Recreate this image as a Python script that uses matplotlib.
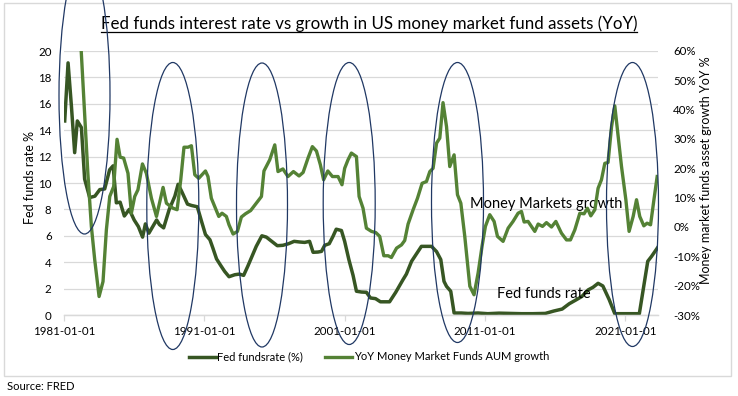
import matplotlib
matplotlib.use("Agg")
import matplotlib.pyplot as plt
from matplotlib.patches import Ellipse, Rectangle
from matplotlib.lines import Line2D

plt.rcParams["font.family"] = ["Lato", "DejaVu Sans"]

# --- data (decimal years) ---
fed_years = [1981.05, 1981.29, 1981.53, 1981.76, 1981.95, 1982.24, 1982.47, 1982.83, 1983.2, 1983.55,
             1983.9, 1984.25, 1984.5, 1984.73, 1985.0, 1985.3, 1985.65, 1986.0, 1986.3, 1986.6,
             1986.8, 1987.05, 1987.6, 1987.8, 1988.1, 1988.5, 1988.9, 1989.13, 1989.37, 1989.8,
             1990.08, 1990.5, 1990.8, 1991.08, 1991.4, 1991.6, 1991.87, 1992.2, 1992.45, 1992.76,
             1993.17, 1993.5, 1993.8, 1994.1, 1994.4, 1994.7, 1995.1, 1995.42, 1995.78, 1996.2,
             1996.6, 1997.0, 1997.4, 1997.8, 1998.15, 1998.5, 1998.75, 1999.1, 1999.35, 1999.58,
             1999.9, 2000.17, 2000.4, 2000.77, 2001.0, 2001.3, 2001.6, 2001.84, 2002.2, 2002.55,
             2002.84, 2003.2, 2003.55, 2004.2, 2004.64, 2005.16, 2005.4, 2005.77, 2006.47, 2007.19,
             2007.55, 2007.85, 2008.08, 2008.26, 2008.56, 2008.8, 2009.3, 2009.8, 2010.5, 2011.2,
             2012.0, 2012.8, 2013.6, 2014.4, 2015.3, 2015.9, 2016.5, 2017.0, 2017.5, 2017.9,
             2018.35, 2018.7, 2019.06, 2019.4, 2019.85, 2020.25, 2021.0, 2022.0, 2022.6, 2022.87,
             2023.33]
fed_rate = [14.7, 19.1, 15.8, 12.3, 14.7, 14.2, 10.3, 8.9, 9.0, 9.5,
            9.55, 11.0, 11.3, 8.5, 8.55, 7.5, 8.0, 7.2, 6.7, 5.9,
            6.9, 6.2, 7.2, 6.85, 6.6, 8.0, 9.0, 9.9, 9.4, 8.4,
            8.3, 8.2, 7.1, 6.1, 5.7, 5.1, 4.25, 3.7, 3.3, 2.9,
            3.05, 3.1, 3.0, 3.7, 4.45, 5.2, 6.0, 5.9, 5.6, 5.25,
            5.28, 5.4, 5.58, 5.53, 5.5, 5.58, 4.75, 4.77, 4.82, 5.28,
            5.4, 5.96, 6.5, 6.4, 5.58, 4.2, 3.0, 1.8, 1.74, 1.72,
            1.29, 1.24, 1.0, 1.0, 1.72, 2.68, 3.1, 4.07, 5.2, 5.2,
            4.8, 4.2, 2.55, 2.17, 1.8, 0.15, 0.15, 0.12, 0.15, 0.1,
            0.14, 0.12, 0.1, 0.1, 0.12, 0.3, 0.45, 0.85, 1.15, 1.4,
            1.9, 2.1, 2.4, 2.2, 1.17, 0.1, 0.1, 0.1, 4.07, 4.44,
            5.15]

mmf_years = [1982.0, 1982.47, 1982.7, 1982.95, 1983.19, 1983.5, 1983.78, 1984.02, 1984.26, 1984.54,
             1984.78, 1985.0, 1985.25, 1985.56, 1985.8, 1986.04, 1986.27, 1986.59, 1986.87, 1987.23,
             1987.59, 1988.06, 1988.3, 1988.77, 1989.06, 1989.32, 1989.55, 1989.84, 1990.08, 1990.32,
             1990.6, 1991.08, 1991.26, 1991.5, 1991.74, 1992.03, 1992.26, 1992.57, 1992.76, 1993.05,
             1993.36, 1993.64, 1993.93, 1994.3, 1994.7, 1995.07, 1995.25, 1995.66, 1996.02, 1996.25,
             1996.6, 1996.96, 1997.35, 1997.75, 1998.04, 1998.39, 1998.7, 1998.99, 1999.27, 1999.5,
             1999.8, 2000.13, 2000.53, 2000.81, 2001.0, 2001.24, 2001.48, 2001.84, 2002.03, 2002.31,
             2002.55, 2002.91, 2003.22, 2003.5, 2003.79, 2004.1, 2004.33, 2004.7, 2005.05, 2005.28,
             2005.52, 2005.88, 2006.19, 2006.52, 2006.83, 2007.07, 2007.3, 2007.55, 2007.78, 2008.01,
             2008.26, 2008.49, 2008.8, 2009.04, 2009.28, 2009.56, 2009.92, 2010.22, 2010.51, 2010.79,
             2011.03, 2011.34, 2011.65, 2011.89, 2012.29, 2012.65, 2013.0, 2013.36, 2013.6, 2013.79,
             2014.07, 2014.55, 2014.79, 2015.1, 2015.38, 2015.74, 2016.05, 2016.45, 2016.81, 2017.09,
             2017.4, 2017.76, 2018.06, 2018.3, 2018.54, 2018.83, 2019.06, 2019.3, 2019.54, 2019.77,
             2020.02, 2020.25, 2020.49, 2020.73, 2021.04, 2021.27, 2021.56, 2021.8, 2022.03, 2022.32,
             2022.55, 2022.8, 2023.04, 2023.27]
mmf_growth = [80.0, 38.8, 18.3, 0.2, -11.2, -23.7, -18.6, -0.95, 10.4, 13.8,
              29.9, 23.8, 23.5, 18.3, 4.7, 10.4, 12.7, 21.5, 18.3, 9.8,
              3.6, 13.5, 8.1, 6.4, 5.9, 16.1, 27.2, 27.2, 27.7, 17.8,
              16.6, 19.1, 17.2, 9.8, 7.0, 3.6, 4.7, 3.6, 0.75, -2.4,
              -1.5, 3.4, 4.5, 5.6, 8.1, 10.4, 19.1, 22.9, 28.0, 18.9,
              19.8, 17.2, 18.9, 17.4, 18.6, 23.5, 27.4, 25.9, 21.2, 16.1,
              19.1, 17.2, 17.2, 14.4, 20.0, 22.9, 25.2, 24.0, 10.4, 6.4,
              -0.4, -1.5, -1.9, -3.2, -9.8, -9.8, -10.4, -7.2, -6.1, -4.6,
              1.0, 5.9, 9.8, 14.9, 15.5, 18.9, 20.0, 28.6, 30.3, 42.4,
              34.2, 20.6, 24.6, 11.0, 8.1, -3.2, -20.2, -23.1, -15.7, -6.6,
              0.2, 4.2, 1.9, -3.2, -4.9, -0.4, 1.9, 4.7, 5.3, 1.7,
              1.9, -1.5, 1.0, 0.2, 1.5, 0.0, 1.9, -2.1, -4.4, -4.4,
              -1.0, 4.7, 4.5, 6.4, 3.8, 5.9, 13.2, 16.1, 21.7, 22.0,
              34.2, 41.3, 30.8, 20.6, 9.3, -1.5, 3.6, 9.3, 3.6, 0.4,
              1.3, 0.75, 9.3, 17.2]

tick_years = [1981, 1991, 2001, 2011, 2021]
tick_labels = ["1981-01-01", "1991-01-01", "2001-01-01", "2011-01-01", "2021-01-01"]

DARK = "#375623"
LIGHT = "#548235"
NAVY = "#203864"
GRID = "#d9d9d9"
TXT = "#000000"

W, H = 738, 396
fig = plt.figure(figsize=(W / 100, H / 100), dpi=100)


def fx(px):
    return px / W


def fy(py):
    return 1 - py / H


ax = fig.add_axes([fx(64), fy(315), fx(658) - fx(64), fy(51) - fy(315)])
ax2 = ax.twinx()

ax.plot(fed_years, fed_rate, color=DARK, lw=2.5, solid_joinstyle="round")
ax2.plot(mmf_years, mmf_growth, color=LIGHT, lw=2.4, solid_joinstyle="round")

ax.set_xlim(1981.0, 2023.33)
ax.set_ylim(0, 20)
ax.set_yticks(range(0, 21, 2))
ax2.set_ylim(-30, 60)
ax2.set_yticks(range(-30, 61, 10))
ax2.set_yticklabels([f"{v}%" for v in range(-30, 61, 10)])
ax.set_xticks(tick_years)
ax.set_xticklabels(tick_labels)

ax.grid(axis="y", color=GRID, lw=0.9)
ax.set_axisbelow(True)
for a in (ax, ax2):
    for s in ("top", "left", "right"):
        a.spines[s].set_visible(False)
    a.spines["bottom"].set_color(GRID)
    a.spines["bottom"].set_linewidth(0.9)
ax.tick_params(axis="y", length=0, pad=9, labelsize=8.3, labelcolor=TXT)
ax2.tick_params(axis="y", length=0, pad=11, labelsize=8.3, labelcolor=TXT)
ax.tick_params(axis="x", length=4, color=GRID, width=0.9, pad=4, labelsize=8.3, labelcolor=TXT)

ax.set_ylabel("Fed funds rate %", fontsize=9)
ax.yaxis.set_label_coords(-0.047, 0.52)
ax2.set_ylabel("Money market funds asset growth YoY %", fontsize=9)
ax2.yaxis.set_label_coords(1.071, 0.55)

# in-chart annotations
ax.text(2009.92, 8.4, "Money Markets growth", fontsize=10.5, va="center", ha="left")
ax.text(2011.84, 1.6, "Fed funds rate", fontsize=10.5, va="center", ha="left")

# title with underline
title = fig.text(0.5, fy(24), "Fed funds interest rate vs growth in US money market fund assets (YoY)",
                 ha="center", va="center", fontsize=12.2)
fig.canvas.draw()
bb = title.get_window_extent(renderer=fig.canvas.get_renderer())
fig.add_artist(Line2D([bb.x0 / W, bb.x1 / W], [fy(31.5), fy(31.5)], color="black", lw=0.9))

# legend
handles = [Line2D([], [], color=DARK, lw=2.5), Line2D([], [], color=LIGHT, lw=2.4)]
fig.legend(handles, ["Fed fundsrate (%)", "YoY Money Market Funds AUM growth"],
           loc="center", bbox_to_anchor=(0.5, fy(357)), ncol=2, frameon=False,
           fontsize=8, handlelength=2.4, handletextpad=0.15, columnspacing=2.0)

# highlight ellipses (pixel positions of the reference)
ellipses = [(84.5, 95.5, 51, 277), (172.8, 206.0, 52, 287), (262.0, 205.0, 51, 284),
            (349.2, 203.5, 52, 282), (457.5, 202.5, 52, 280), (632.5, 204.5, 52, 284)]
for cx, cy, w, h in ellipses:
    fig.add_artist(Ellipse((fx(cx), fy(cy)), w / W, h / H, transform=fig.transFigure,
                           fill=False, edgecolor=NAVY, lw=0.9, zorder=10))

# chart border and source
fig.add_artist(Rectangle((fx(4), fy(376)), fx(731) - fx(4), fy(2.5) - fy(376),
                         transform=fig.transFigure, fill=False, edgecolor=GRID, lw=1.0))
fig.text(fx(7), fy(386), "Source: FRED", fontsize=8, ha="left", va="center")

fig.savefig("out.png", dpi=100)
